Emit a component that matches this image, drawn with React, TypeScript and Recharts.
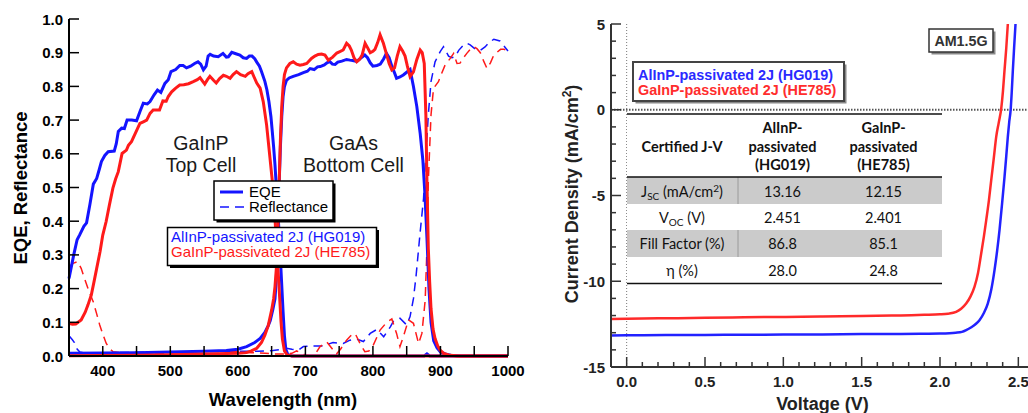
import React from "react";
import { LineChart, Line, XAxis, YAxis, ReferenceLine } from "recharts";

// ---- EQE panel data: [wavelength (nm), value] ----
const blueTopEQE: [number, number][] = [
  [350, 0.23], [357, 0.3], [362, 0.345], [366, 0.36], [372, 0.385], [376, 0.395], [381, 0.45],
  [386, 0.51], [391, 0.527], [395, 0.555], [398, 0.577], [403, 0.595], [408, 0.606], [417, 0.608],
  [420, 0.63], [423, 0.666], [428, 0.676], [432, 0.675], [436, 0.7], [443, 0.7], [450, 0.698],
  [455, 0.725], [460, 0.75], [466, 0.748], [470, 0.755], [476, 0.775], [481, 0.789], [486, 0.782],
  [492, 0.809], [497, 0.82], [501, 0.844], [508, 0.85], [514, 0.862], [519, 0.862], [524, 0.855],
  [530, 0.86], [536, 0.868], [541, 0.873], [545, 0.866], [549, 0.849], [553, 0.86], [556, 0.89],
  [559, 0.895], [564, 0.89], [571, 0.888], [578, 0.898], [583, 0.887], [586, 0.888], [591, 0.901],
  [597, 0.897], [603, 0.893], [608, 0.885], [613, 0.883], [617, 0.89], [621, 0.89], [625, 0.882],
  [628, 0.872], [632, 0.86], [635, 0.844], [640, 0.815], [643, 0.79], [646, 0.755], [649, 0.71],
  [651, 0.666], [653, 0.62], [655, 0.567], [657, 0.5], [659, 0.44], [662, 0.33], [665, 0.21],
  [667, 0.13], [669, 0.06], [671, 0.02], [674, 0.004], [680, 0], [876, 0], [880, 0.006], [884, 0],
  [1000, 0],
];
const blueBottomEQE: [number, number][] = [
  [350, 0.008], [400, 0.009], [450, 0.01], [500, 0.012], [550, 0.014], [583, 0.016], [600, 0.02],
  [613, 0.028], [625, 0.04], [633, 0.052], [640, 0.07], [645, 0.09], [648, 0.105], [652, 0.14],
  [655, 0.17], [657, 0.23], [659, 0.35], [661, 0.5], [663, 0.62], [665, 0.71], [667, 0.77],
  [669, 0.8], [672, 0.818], [676, 0.825], [682, 0.83], [690, 0.835], [697, 0.841], [703, 0.845],
  [707, 0.853], [713, 0.85], [718, 0.858], [722, 0.859], [728, 0.864], [732, 0.87], [736, 0.874],
  [740, 0.866], [744, 0.865], [748, 0.872], [754, 0.875], [761, 0.88], [766, 0.878], [770, 0.877],
  [776, 0.874], [782, 0.884], [788, 0.893], [792, 0.885], [796, 0.87], [800, 0.86], [806, 0.862],
  [811, 0.866], [816, 0.882], [820, 0.898], [824, 0.885], [828, 0.86], [832, 0.84], [835, 0.824],
  [840, 0.828], [845, 0.834], [850, 0.842], [855, 0.85], [860, 0.8], [865, 0.74], [870, 0.66],
  [874, 0.58], [877, 0.48], [880, 0.35], [883, 0.2], [886, 0.1], [890, 0.045], [895, 0.024],
  [900, 0.012], [907, 0.006], [915, 0.002], [930, 0], [1000, 0],
];
const redTopEQE: [number, number][] = [
  [350, 0.097], [355, 0.094], [360, 0.095], [368, 0.107], [374, 0.13], [378, 0.151], [383, 0.181],
  [387, 0.22], [391, 0.26], [396, 0.31], [400, 0.359], [405, 0.399], [410, 0.45], [415, 0.498],
  [419, 0.525], [423, 0.547], [428.6, 0.601], [435, 0.611], [438, 0.625], [442.5, 0.636], [448, 0.66],
  [455, 0.69], [460, 0.695], [465, 0.7], [470, 0.72], [474.6, 0.73], [484, 0.73], [489, 0.757],
  [494, 0.756], [497, 0.77], [502, 0.784], [508, 0.795], [514, 0.804], [520, 0.805], [527, 0.808],
  [534, 0.814], [540, 0.82], [544, 0.826], [548, 0.815], [551, 0.807], [555, 0.82], [558.6, 0.83],
  [564, 0.818], [568, 0.81], [573, 0.823], [578.6, 0.833], [583, 0.83], [588.5, 0.824], [593, 0.835],
  [598, 0.844], [604, 0.835], [611, 0.83], [615, 0.838], [620.6, 0.844], [624, 0.828], [628, 0.81],
  [633, 0.795], [637.6, 0.755], [642.6, 0.685], [647.6, 0.587], [651, 0.52], [654, 0.44], [657, 0.34],
  [660, 0.24], [662, 0.17], [664, 0.1], [666, 0.05], [669, 0.015], [673, 0.003], [680, 0], [1000, 0],
];
const redBottomEQE: [number, number][] = [
  [350, 0.001], [450, 0.002], [500, 0.004], [550, 0.006], [600, 0.008], [613, 0.01], [620, 0.015],
  [628, 0.023], [635, 0.04], [640, 0.062], [645, 0.09], [650, 0.136], [653, 0.17], [655, 0.206],
  [657, 0.26], [659, 0.36], [661, 0.5], [663, 0.64], [665, 0.74], [667, 0.8], [669, 0.835],
  [672, 0.855], [677, 0.868], [682, 0.873], [687, 0.866], [692, 0.863], [697, 0.865], [702, 0.868],
  [709, 0.883], [714, 0.89], [719, 0.895], [724, 0.896], [729, 0.893], [734, 0.878], [740, 0.886],
  [746.5, 0.899], [751, 0.903], [756, 0.908], [761, 0.928], [765, 0.92], [768, 0.908], [772, 0.885],
  [776, 0.873], [780, 0.88], [784, 0.893], [788.4, 0.928], [792, 0.915], [796, 0.9], [800, 0.904],
  [803, 0.91], [807, 0.93], [810.6, 0.953], [815.5, 0.928], [820.5, 0.893], [824, 0.868], [828, 0.849],
  [832, 0.855], [836, 0.89], [840, 0.918], [844, 0.905], [847.6, 0.89], [851, 0.86], [855, 0.829],
  [860, 0.843], [865, 0.88], [870, 0.908], [873, 0.9], [876, 0.868], [878.4, 0.715], [880, 0.517],
  [882, 0.32], [884, 0.22], [886, 0.141], [889, 0.08], [892, 0.052], [896, 0.03], [899.6, 0.017],
  [905, 0.008], [912, 0.003], [925, 0], [1000, 0],
];
const blueRefl: [number, number][] = [
  [350, 0.06], [355, 0.048], [358, 0.04], [361, 0.023], [366, 0.012], [371, 0.01], [380, 0.008],
  [400, 0.009], [420, 0.01], [450, 0.011], [500, 0.012], [550, 0.013], [600, 0.014], [630, 0.014],
  [652, 0.016], [665, 0.02], [672, 0.023], [680, 0.02], [690, 0.018], [697, 0.028], [711, 0.03],
  [726, 0.03], [741, 0.04], [756, 0.037], [766, 0.047], [776, 0.05], [786, 0.043], [796, 0.067],
  [806, 0.079], [816, 0.057], [826, 0.087], [830, 0.102], [840, 0.112], [850, 0.092], [855, 0.117],
  [860, 0.17], [864, 0.24], [870, 0.369], [875, 0.468], [877.5, 0.567], [882, 0.715], [886, 0.814],
  [892, 0.873], [899.6, 0.903], [904.5, 0.918], [912, 0.89], [917, 0.885], [922, 0.888], [927, 0.907],
  [933, 0.92], [939, 0.928], [944, 0.923], [952, 0.91], [959, 0.907], [966, 0.917], [972, 0.93],
  [979, 0.94], [988, 0.935], [994, 0.92], [1000, 0.905],
];
const redRefl: [number, number][] = [
  [350, 0.265], [356, 0.275], [363, 0.28], [368, 0.26], [373, 0.23], [380, 0.19], [386, 0.16],
  [391, 0.125], [395.5, 0.092], [400, 0.065], [405, 0.038], [410, 0.022], [415, 0.013], [425, 0.01],
  [440, 0.008], [460, 0.007], [480, 0.006], [500, 0.008], [520, 0.012], [540, 0.014], [560, 0.015],
  [580, 0.015], [600, 0.013], [620, 0.01], [640, 0.008], [655, 0.006], [670, 0.006], [680, 0.008],
  [687, 0.015], [695, 0.008], [700, 0.002], [710, 0], [716, 0.01], [721.7, 0.028], [731.6, 0.042],
  [741, 0.018], [746, 0.006], [752, 0.02], [761, 0.047], [767, 0.06], [773.6, 0.067], [781, 0.037],
  [788, 0.013], [794, 0.015], [800.7, 0.033], [810.6, 0.077], [820.5, 0.1], [828, 0.11], [835, 0.067],
  [840, 0.028], [845, 0.057], [852.6, 0.107], [860, 0.097], [867.6, 0.037], [872.5, 0.067],
  [877.4, 0.166], [880, 0.32], [882, 0.517], [886, 0.715], [889.7, 0.794], [897, 0.814], [902, 0.84],
  [907, 0.864], [914.5, 0.883], [919.5, 0.898], [924.5, 0.868], [929, 0.869], [934, 0.885],
  [939, 0.898], [944, 0.91], [949, 0.918], [954, 0.912], [959, 0.9], [964, 0.875], [969, 0.853],
  [974, 0.87], [979, 0.893], [989, 0.91], [994, 0.91], [1000, 0.905],
];

// ---- J-V panel data: [voltage (V), current density (mA/cm2)] ----
const blueJV: [number, number][] = [
  [-0.1, -13.16], [0, -13.15], [0.25, -13.14], [0.5, -13.13], [0.75, -13.12], [1.0, -13.11],
  [1.25, -13.1], [1.5, -13.08], [1.75, -13.07], [1.9, -13.06], [2.0, -13.05], [2.06, -13.03],
  [2.1, -13.0], [2.14, -12.95], [2.167, -12.85], [2.2, -12.68], [2.23, -12.48], [2.252, -12.27],
  [2.28, -11.85], [2.305, -11.3], [2.328, -10.45], [2.348, -9.35], [2.365, -8.2], [2.38, -7.0],
  [2.396, -5.5], [2.412, -3.9], [2.423, -2.7], [2.433, -1.57], [2.442, -0.7], [2.451, 0],
  [2.458, 1.05], [2.465, 2.3], [2.473, 3.6], [2.482, 5],
];
const redJV: [number, number][] = [
  [-0.1, -12.2], [0, -12.18], [0.25, -12.16], [0.5, -12.13], [0.75, -12.1], [1.0, -12.08],
  [1.25, -12.05], [1.5, -12.03], [1.75, -11.99], [1.9, -11.96], [2.0, -11.93], [2.05, -11.89],
  [2.103, -11.78], [2.135, -11.6], [2.167, -11.3], [2.195, -10.88], [2.22, -10.33], [2.243, -9.5],
  [2.263, -8.38], [2.28, -7.4], [2.295, -6.44], [2.312, -5.3], [2.327, -4.1], [2.343, -2.85],
  [2.359, -1.57], [2.375, -0.75], [2.391, 0.08], [2.402, 1.1], [2.412, 2.32], [2.423, 3.6],
  [2.433, 5],
];

// ---- ticks ----
const wlTicks = [350, 400, 450, 500, 550, 600, 650, 700, 750, 800, 850, 900, 950, 1000];
const wlLabels = [400, 500, 600, 700, 800, 900, 1000];
const eqeTicks = [0, 0.1, 0.2, 0.3, 0.4, 0.5, 0.6, 0.7, 0.8, 0.9, 1.0];
const vTicks = [
  -0.1, 0, 0.1, 0.2, 0.3, 0.4, 0.5, 0.6, 0.7, 0.8, 0.9, 1, 1.1, 1.2, 1.3, 1.4, 1.5, 1.6, 1.7,
  1.8, 1.9, 2, 2.1, 2.2, 2.3, 2.4, 2.5, 2.6,
];
const vMajor = [0, 0.5, 1, 1.5, 2, 2.5];
const jTicks = [-15, -14, -13, -12, -11, -10, -9, -8, -7, -6, -5, -4, -3, -2, -1, 0, 1, 2, 3, 4, 5];
const jMajor = [-15, -10, -5, 0, 5];

// ---- table ----
const tableRows = [
  { label: "Jsc", a: "13.16", b: "12.15" },
  { label: "Voc", a: "2.451", b: "2.401" },
  { label: "FF", a: "86.8", b: "85.1" },
  { label: "eta", a: "28.0", b: "24.8" },
];

const pts = (arr: [number, number][]) => arr.map(([x, y]) => ({ x, y }));

const SANS = "'Liberation Sans', Arial, Helvetica, sans-serif";
const TABLE_FONT = "Lato, 'Open Sans', sans-serif";
const BLUE = "#1414ff";
const RED = "#ff1a1a";

// plot boxes in each chart's own svg coordinates
const LB = { left: 69, right: 508, top: 19, bottom: 356 };
const RB = { left: 91, right: 514, top: 24, bottom: 367 };

const WlBottomTick = (p: any) => {
  const v = p.payload.value;
  return (
    <g>
      <line x1={p.x} x2={p.x} y1={LB.bottom} y2={LB.bottom - 10} stroke="#000" strokeWidth={1.5} />
      {wlLabels.includes(v) && (
        <text x={p.x} y={376} textAnchor="middle" fontFamily={SANS} fontWeight="bold" fontSize={15} fill="#000">
          {v}
        </text>
      )}
    </g>
  );
};
const WlTopTick = (p: any) => (
  <line x1={p.x} x2={p.x} y1={LB.top} y2={LB.top + 10} stroke="#000" strokeWidth={1.5} />
);
const EqeLeftTick = (p: any) => (
  <g>
    <line x1={LB.left} x2={LB.left + 10} y1={p.y} y2={p.y} stroke="#000" strokeWidth={1.5} />
    <text x={63} y={p.y + 5.5} textAnchor="end" fontFamily={SANS} fontWeight="bold" fontSize={15} fill="#000">
      {p.payload.value.toFixed(1)}
    </text>
  </g>
);
const EqeRightTick = (p: any) => (
  <line x1={LB.right} x2={LB.right - 10} y1={p.y} y2={p.y} stroke="#000" strokeWidth={1.5} />
);

const VBottomTick = (p: any) => {
  const v = p.payload.value;
  const major = vMajor.includes(v);
  return (
    <g>
      <line x1={p.x} x2={p.x} y1={RB.bottom} y2={RB.bottom - (major ? 10 : 5)} stroke="#333" strokeWidth={1.5} />
      {major && (
        <text x={p.x} y={386.5} textAnchor="middle" fontFamily={SANS} fontWeight="bold" fontSize={15} fill="#222">
          {v.toFixed(1)}
        </text>
      )}
    </g>
  );
};
const VTopTick = (p: any) => {
  const major = vMajor.includes(p.payload.value);
  return <line x1={p.x} x2={p.x} y1={RB.top} y2={RB.top + (major ? 10 : 5)} stroke="#333" strokeWidth={1.5} />;
};
const JLeftTick = (p: any) => {
  const v = p.payload.value;
  const major = jMajor.includes(v);
  return (
    <g>
      <line x1={RB.left} x2={RB.left + (major ? 10 : 5)} y1={p.y} y2={p.y} stroke="#333" strokeWidth={1.5} />
      {major && (
        <text x={85} y={p.y + 5.5} textAnchor="end" fontFamily={SANS} fontWeight="bold" fontSize={15} fill="#222">
          {String(v)}
        </text>
      )}
    </g>
  );
};
const JRightTick = (p: any) => {
  const major = jMajor.includes(p.payload.value);
  return <line x1={RB.right} x2={RB.right - (major ? 10 : 5)} y1={p.y} y2={p.y} stroke="#333" strokeWidth={1.5} />;
};

const ShadowBox = ({ x, y, w, h, stroke, shadow, sw }: any) => (
  <g>
    <rect x={x + 2.5} y={y + 2.5} width={w} height={h} fill={shadow} />
    <rect x={x} y={y} width={w} height={h} fill="#fff" stroke={stroke} strokeWidth={sw} />
  </g>
);

function RowLabel({ kind, x, y }: { kind: string; x: number; y: number }) {
  const common = { x, y, textAnchor: "middle" as const, fontFamily: TABLE_FONT, fontSize: 14.5, fill: "#111" };
  if (kind === "Jsc")
    return (
      <text {...common}>
        J<tspan fontSize={10} dy={3}>SC</tspan>
        <tspan dy={-3}> (mA/cm</tspan>
        <tspan fontSize={10} dy={-5}>2</tspan>
        <tspan dy={5}>)</tspan>
      </text>
    );
  if (kind === "Voc")
    return (
      <text {...common}>
        V<tspan fontSize={10} dy={3}>OC</tspan>
        <tspan dy={-3}> (V)</tspan>
      </text>
    );
  if (kind === "FF") return <text {...common}>Fill Factor (%)</text>;
  return <text {...common}>η (%)</text>;
}

export default function App() {
  const rowTop = [177, 204, 230, 257];
  const rowBase = [197, 222.5, 249, 275.5];
  return (
    <div
      style={{
        position: "absolute",
        left: 0,
        top: 0,
        width: 1028,
        height: 413,
        overflow: "hidden",
        background: "#fff",
        fontFamily: SANS,
      }}
    >
      {/* EQE / reflectance panel */}
      <div style={{ position: "absolute", left: 0, top: 0 }}>
        <LineChart width={530} height={413} margin={{ top: 19, right: 22, bottom: 27, left: 0 }}>
          <XAxis
            xAxisId="b"
            type="number"
            dataKey="x"
            domain={[350, 1000]}
            ticks={wlTicks}
            interval={0}
            height={30}
            axisLine={{ stroke: "#000", strokeWidth: 2 }}
            tickLine={false}
            tick={WlBottomTick}
          />
          <XAxis
            xAxisId="t"
            orientation="top"
            type="number"
            dataKey="x"
            domain={[350, 1000]}
            ticks={wlTicks}
            interval={0}
            height={0}
            axisLine={{ stroke: "#000", strokeWidth: 2 }}
            tickLine={false}
            tick={WlTopTick}
          />
          <YAxis
            yAxisId="l"
            type="number"
            domain={[0, 1]}
            ticks={eqeTicks}
            interval={0}
            width={69}
            axisLine={{ stroke: "#000", strokeWidth: 2 }}
            tickLine={false}
            tick={EqeLeftTick}
          />
          <YAxis
            yAxisId="r"
            orientation="right"
            type="number"
            domain={[0, 1]}
            ticks={eqeTicks}
            interval={0}
            width={0}
            axisLine={{ stroke: "#000", strokeWidth: 2 }}
            tickLine={false}
            tick={EqeRightTick}
          />
          <Line xAxisId="b" yAxisId="l" data={pts(blueRefl)} dataKey="y" type="linear" stroke={BLUE} strokeWidth={1.5} strokeDasharray="9 6" dot={false} isAnimationActive={false} />
          <Line xAxisId="b" yAxisId="l" data={pts(redRefl)} dataKey="y" type="linear" stroke={RED} strokeWidth={1.5} strokeDasharray="9 6" dot={false} isAnimationActive={false} />
          <Line xAxisId="b" yAxisId="l" data={pts(blueBottomEQE)} dataKey="y" type="linear" stroke={BLUE} strokeWidth={3} dot={false} isAnimationActive={false} />
          <Line xAxisId="b" yAxisId="l" data={pts(blueTopEQE)} dataKey="y" type="linear" stroke={BLUE} strokeWidth={3} dot={false} isAnimationActive={false} />
          <Line xAxisId="b" yAxisId="l" data={pts(redBottomEQE)} dataKey="y" type="linear" stroke={RED} strokeWidth={3} dot={false} isAnimationActive={false} />
          <Line xAxisId="b" yAxisId="l" data={pts(redTopEQE)} dataKey="y" type="linear" stroke={RED} strokeWidth={3} dot={false} isAnimationActive={false} />
        </LineChart>
      </div>

      {/* J-V panel */}
      <div style={{ position: "absolute", left: 520, top: 0 }}>
        <LineChart width={514} height={413} margin={{ top: 24, right: 0, bottom: 16, left: 0 }}>
          <XAxis
            xAxisId="b"
            type="number"
            dataKey="x"
            domain={[-0.1, 2.6]}
            ticks={vTicks}
            interval={0}
            height={30}
            axisLine={{ stroke: "#333", strokeWidth: 2 }}
            tickLine={false}
            tick={VBottomTick}
          />
          <XAxis
            xAxisId="t"
            orientation="top"
            type="number"
            dataKey="x"
            domain={[-0.1, 2.6]}
            ticks={vTicks}
            interval={0}
            height={0}
            axisLine={{ stroke: "#333", strokeWidth: 2 }}
            tickLine={false}
            tick={VTopTick}
          />
          <YAxis
            yAxisId="l"
            type="number"
            domain={[-15, 5]}
            ticks={jTicks}
            interval={0}
            width={91}
            axisLine={{ stroke: "#333", strokeWidth: 2 }}
            tickLine={false}
            tick={JLeftTick}
          />
          <YAxis
            yAxisId="r"
            orientation="right"
            type="number"
            domain={[-15, 5]}
            ticks={jTicks}
            interval={0}
            width={0}
            axisLine={{ stroke: "#333", strokeWidth: 2 }}
            tickLine={false}
            tick={JRightTick}
          />
          <ReferenceLine xAxisId="b" yAxisId="l" x={0} stroke="#777" strokeWidth={1} strokeDasharray="1 2" />
          <ReferenceLine xAxisId="b" yAxisId="l" y={0} stroke="#555" strokeWidth={2} strokeDasharray="1.5 1.5" />
          <Line xAxisId="b" yAxisId="l" data={pts(redJV)} dataKey="y" type="monotone" stroke="#ff2a2a" strokeWidth={2.5} dot={false} isAnimationActive={false} />
          <Line xAxisId="b" yAxisId="l" data={pts(blueJV)} dataKey="y" type="monotone" stroke="#2222ff" strokeWidth={2.5} dot={false} isAnimationActive={false} />
        </LineChart>
      </div>

      {/* annotations */}
      <svg
        width={1028}
        height={413}
        style={{ position: "absolute", left: 0, top: 0, pointerEvents: "none" }}
      >
        {/* left panel titles */}
        <text
          transform="translate(26.5,188) rotate(-90)"
          textAnchor="middle"
          fontFamily={SANS}
          fontWeight="bold"
          fontSize={18.5}
          fill="#000"
        >
          EQE, Reflectance
        </text>
        <text x={283} y={406} textAnchor="middle" fontFamily={SANS} fontWeight="bold" fontSize={18.5} fill="#000">
          Wavelength (nm)
        </text>

        <g fontFamily={SANS} fontSize={19.5} fill="#1a1a1a" textAnchor="middle">
          <text x={201} y={149.5}>GaInP</text>
          <text x={201} y={172}>Top Cell</text>
          <text x={353.5} y={149.5}>GaAs</text>
          <text x={353.5} y={172}>Bottom Cell</text>
        </g>

        <ShadowBox x={214} y={181} w={119} h={39} stroke="#000" shadow="#000" sw={1.5} />
        <line x1={220} x2={243} y1={192} y2={192} stroke={BLUE} strokeWidth={3} />
        <line x1={220} x2={244} y1={207} y2={207} stroke={BLUE} strokeWidth={1.5} strokeDasharray="9 6" />
        <text x={249} y={196.7} fontFamily={SANS} fontSize={15} fill="#000">EQE</text>
        <text x={249} y={212} fontFamily={SANS} fontSize={15} fill="#000">Reflectance</text>

        <ShadowBox x={167.5} y={227.5} w={209} h={38} stroke="#000" shadow="#000" sw={1.5} />
        <text x={171} y={241.7} fontFamily={SANS} fontSize={15} fill={BLUE}>AlInP-passivated 2J (HG019)</text>
        <text x={171} y={257} fontFamily={SANS} fontSize={15} fill={RED}>GaInP-passivated 2J (HE785)</text>

        {/* right panel titles */}
        <text
          transform="translate(578,194) rotate(-90)"
          textAnchor="middle"
          fontFamily={SANS}
          fontWeight="bold"
          fontSize={18}
          fill="#222"
        >
          Current Density (mA/cm<tspan fontSize={12} dy={-7}>2</tspan>
          <tspan dy={7}>)</tspan>
        </text>
        <text x={822.5} y={410} textAnchor="middle" fontFamily={SANS} fontWeight="bold" fontSize={18} fill="#222">
          Voltage (V)
        </text>

        <ShadowBox x={929} y={29} w={64} h={23} stroke="#333" shadow="#888" sw={1.5} />
        <text x={961} y={45.5} textAnchor="middle" fontFamily={SANS} fontWeight="bold" fontSize={14.3} fill="#333">
          AM1.5G
        </text>

        <ShadowBox x={633} y={62} w={211} h={39} stroke="#444" shadow="#888" sw={2} />
        <text x={638} y={79.5} fontFamily={SANS} fontWeight="bold" fontSize={14.4} fill="#2a2aff">
          AlInP-passivated 2J (HG019)
        </text>
        <text x={638} y={94.5} fontFamily={SANS} fontWeight="bold" fontSize={14.4} fill="#ff2d2d">
          GaInP-passivated 2J (HE785)
        </text>

        {/* certified J-V table */}
        <rect x={627} y={113} width={315} height={171} fill="#fff" />
        <rect x={627} y={rowTop[0]} width={315} height={27} fill="#cbcbcb" />
        <rect x={627} y={rowTop[2]} width={315} height={27} fill="#cbcbcb" />
        <line x1={738} x2={738} y1={rowTop[0]} y2={rowTop[1]} stroke="#9a9a9a" strokeWidth={1} />
        <line x1={738} x2={738} y1={rowTop[2]} y2={rowTop[3]} stroke="#9a9a9a" strokeWidth={1} />
        <line x1={627} x2={942} y1={114} y2={114} stroke="#111" strokeWidth={1.5} />
        <line x1={627} x2={942} y1={177} y2={177} stroke="#111" strokeWidth={1.5} />
        <line x1={627} x2={942} y1={283.5} y2={283.5} stroke="#111" strokeWidth={1.5} />
        <g fontFamily={TABLE_FONT} fontWeight="bold" fontSize={14.5} fill="#111" textAnchor="middle">
          <text x={682} y={151.5}>Certified J-V</text>
          <text x={782.5} y={133}>AlInP-</text>
          <text x={782.5} y={151.5}>passivated</text>
          <text x={782.5} y={170}>(HG019)</text>
          <text x={883.5} y={133}>GaInP-</text>
          <text x={883.5} y={151.5}>passivated</text>
          <text x={883.5} y={170}>(HE785)</text>
        </g>
        {tableRows.map((r, i) => (
          <g key={r.label}>
            <RowLabel kind={r.label} x={682} y={rowBase[i]} />
            <text x={782.5} y={rowBase[i]} textAnchor="middle" fontFamily={TABLE_FONT} fontSize={14.5} fill="#111">
              {r.a}
            </text>
            <text x={883.5} y={rowBase[i]} textAnchor="middle" fontFamily={TABLE_FONT} fontSize={14.5} fill="#111">
              {r.b}
            </text>
          </g>
        ))}
      </svg>
    </div>
  );
}
